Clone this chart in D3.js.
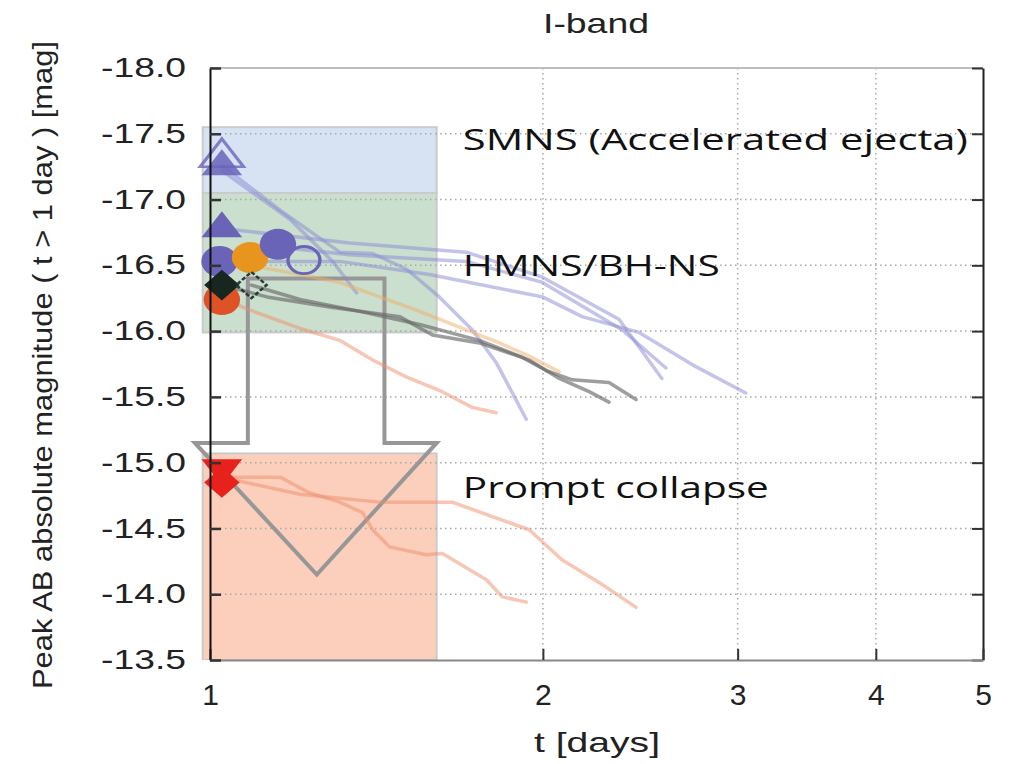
<!DOCTYPE html>
<meta charset="utf-8">
<style>
    body { margin: 0; background: #fff; }
    .tickLabel text { font: 27px "Liberation Sans", Arial, sans-serif; fill: #222; }
    .xTickLabel text { font: 30px "Liberation Sans", Arial, sans-serif; fill: #222; }
    .regionLabel { font: 29px "Open Sans", sans-serif; fill: #111; }
    .axisTitle { font: 28px "Liberation Sans", Arial, sans-serif; fill: #222; }
</style>
<body>
<script src="https://d3js.org/d3.v7.min.js"></script>
<script>
    // ---- data (t in days, peak AB magnitude) ----
    let yTicks = [-18.0, -17.5, -17.0, -16.5, -16.0, -15.5, -15.0, -14.5, -14.0, -13.5];
    let xTicks = [1, 2, 3, 4, 5];
    let xGrid = [2, 3, 4];

    let regionNames = ["SMNS (Accelerated ejecta)", "HMNS/BH-NS", "Prompt collapse"];
    let regionTop = [-17.55, -17.05, -15.07];
    let regionBottom = [-17.05, -15.99, -13.5];
    let regionT = [0.985, 1.603];
    let labelMag = [-17.38, -16.42, -14.73];

    // hollow arrow from the HMNS box down to the prompt collapse box
    let arrowPts = [[1.082, -16.40], [1.438, -16.40], [1.438, -15.15], [1.603, -15.15],
                    [1.249, -14.15], [0.969, -15.15], [1.082, -15.15]];

    // light curves
    let purpleSteep = [[1.025,-17.26],[1.157,-16.92],[1.310,-16.60],[1.403,-16.59],[1.506,-16.47],[1.612,-16.26],[1.726,-16.01],[1.815,-15.76],[1.932,-15.33]];
    let purpleShort = [[1.025,-17.22],[1.181,-16.85],[1.291,-16.53],[1.357,-16.29]];
    let purpleA = [[1.025,-16.78],[1.338,-16.67],[1.705,-16.60],[1.998,-16.41],[2.343,-16.09],[2.562,-15.64]];
    let purpleB = [[1.152,-16.64],[1.338,-16.58],[1.705,-16.53],[1.998,-16.37],[2.358,-16.01],[2.584,-15.72]];
    let purpleC = [[1.020,-16.53],[1.310,-16.53],[1.579,-16.43],[1.998,-16.26],[2.170,-16.11],[2.443,-15.99],[2.750,-15.73],[3.051,-15.53]];
    let greyA = [[1.025,-16.35],[1.126,-16.26],[1.291,-16.18],[1.484,-16.11],[1.589,-15.97],[1.752,-15.91],[1.916,-15.80],[2.014,-15.70],[2.126,-15.63],[2.295,-15.61],[2.428,-15.48]];
    let greyB = [[1.090,-16.35],[1.206,-16.24],[1.366,-16.15],[1.547,-16.05],[1.752,-15.93],[1.944,-15.78],[2.069,-15.64],[2.202,-15.54],[2.295,-15.46]];
    let orangeA = [[1.087,-16.50],[1.206,-16.43],[1.310,-16.37],[1.537,-16.16],[1.681,-16.03],[1.826,-15.91],[1.944,-15.81],[2.069,-15.69]];
    let salmonA = [[1.025,-16.25],[1.087,-16.16],[1.206,-16.02],[1.310,-15.93],[1.403,-15.78],[1.506,-15.65],[1.612,-15.55],[1.726,-15.42],[1.815,-15.38]];
    let promptA = [[1.025,-14.95],[1.049,-14.89],[1.157,-14.89],[1.231,-14.77],[1.310,-14.70],[1.374,-14.62],[1.403,-14.49],[1.453,-14.36],[1.569,-14.30],[1.622,-14.31],[1.778,-14.11],[1.838,-13.98],[1.932,-13.94]];
    let promptB = [[1.025,-14.91],[1.049,-14.87],[1.206,-14.76],[1.423,-14.70],[1.656,-14.70],[1.800,-14.59],[1.944,-14.49],[2.082,-14.26],[2.248,-14.09],[2.428,-13.90]];

    // peak markers
    let markerT =     [1.025, 1.025, 1.025, 1.020, 1.087, 1.152, 1.216, 1.025, 1.025, 1.090, 1.025, 1.025];
    let markerMag =   [-17.25, -17.32, -16.78, -16.53, -16.56, -16.66, -16.54, -16.24, -16.35, -16.35, -14.96, -14.85];
    let markerShape = ["tri", "triOpen", "tri", "circle", "circle", "circle", "circleOpen", "circle", "diamond", "diamondOpen", "triDown", "diamond"];
    let markerGroup = ["purple", "purple", "purple", "purple", "orange", "purple", "purple", "redorange", "black", "black", "red", "red"];

    // ---- layout ----
    let width = 1016;
    let height = 764;
    let margin = {top: 68, right: 33, bottom: 104, left: 210};

    let svg = d3.select("body").append("svg")
        .attr("width", width)
        .attr("height", height);

    let x = d3.scaleLog().domain([1, 5]).range([margin.left, width - margin.right]);
    let y = d3.scaleLinear().domain([-18, -13.5]).range([margin.top, height - margin.bottom]);

    let regionColor = ["#d7e3f3", "#cadfcd", "#fbcfbb"];
    let lineColor = {purple: "#8a8ad6", grey: "#6a6a6a", orange: "#f0b068", salmon: "#ef8e6c"};
    let markerColor = {purple: "#6a64b8", orange: "#e8951f", redorange: "#de5326", black: "#17261f", red: "#e8211d"};

    // clip everything to the frame (boxes stick out a little on the left)
    svg.append("defs").append("clipPath").attr("id", "frameClip")
        .append("rect")
        .attr("x", x(1) - 10).attr("y", y(-18))
        .attr("width", x(5) - x(1) + 10).attr("height", y(-13.5) - y(-18));

    // shaded regions
    svg.append("g").attr("clip-path", "url(#frameClip)")
        .selectAll("rect")
        .data(regionNames)
        .join("rect")
            .attr("x", x(regionT[0]))
            .attr("width", x(regionT[1]) - x(regionT[0]))
            .attr("y", function(d, i){ return y(regionTop[i]); })
            .attr("height", function(d, i){ return y(regionBottom[i]) - y(regionTop[i]); })
            .attr("fill", function(d, i){ return regionColor[i]; })
            .attr("stroke", "#cacaca")
            .attr("stroke-width", 2);

    // dotted grid
    let grid = svg.append("g").attr("stroke", "#a8a8a8").attr("stroke-width", 1.5).attr("stroke-dasharray", "1.5,3.5");
    grid.selectAll(".h")
        .data(yTicks.slice(1, -1))
        .join("line")
            .attr("class", "h")
            .attr("x1", x(1)).attr("x2", x(5))
            .attr("y1", function(d){ return y(d); }).attr("y2", function(d){ return y(d); });
    grid.selectAll(".v")
        .data(xGrid)
        .join("line")
            .attr("class", "v")
            .attr("x1", function(d){ return x(d); }).attr("x2", function(d){ return x(d); })
            .attr("y1", y(-18)).attr("y2", y(-13.5));

    // hollow arrow
    svg.append("path")
        .attr("d", d3.line().x(function(d){ return x(d[0]); }).y(function(d){ return y(d[1]); })(arrowPts) + "Z")
        .attr("fill", "none")
        .attr("stroke", "#979797")
        .attr("stroke-width", 4)
        .attr("stroke-linejoin", "miter");

    // light curves
    let curves = [
        {pts: purpleSteep, c: "purple"}, {pts: purpleShort, c: "purple"},
        {pts: purpleA, c: "purple"}, {pts: purpleB, c: "purple"}, {pts: purpleC, c: "purple"},
        {pts: orangeA, c: "orange"}, {pts: salmonA, c: "salmon"},
        {pts: greyA, c: "grey"}, {pts: greyB, c: "grey"},
        {pts: promptA, c: "salmon"}, {pts: promptB, c: "salmon"}
    ];
    let lineGen = d3.line()
        .x(function(d){ return x(d[0]); })
        .y(function(d){ return y(d[1]); })
        .curve(d3.curveLinear);
    svg.append("g")
        .selectAll("path")
        .data(curves)
        .join("path")
            .attr("d", function(d){ return lineGen(d.pts); })
            .attr("fill", "none")
            .attr("stroke", function(d){ return lineColor[d.c]; })
            .attr("stroke-opacity", function(d){ return d.c === "grey" ? 0.65 : 0.5; })
            .attr("stroke-width", 3.5)
            .attr("stroke-linejoin", "round")
            .attr("stroke-linecap", "round");

    // markers
    function symbolPath(shape){
        if(shape === "tri" || shape === "triOpen" || shape === "triDown"){
            return d3.symbol().type(d3.symbolTriangle).size(shape === "triOpen" ? 620 : 540)();
        }
        if(shape === "circle"){
            return d3.symbol().type(d3.symbolCircle).size(830)();
        }
        if(shape === "circleOpen"){
            return d3.symbol().type(d3.symbolCircle).size(640)();
        }
        if(shape === "diamond" || shape === "diamondOpen"){
            return d3.symbol().type(d3.symbolSquare).size(shape === "diamondOpen" ? 380 : 520)();
        }
    }
    function symbolTransform(shape, i){
        let t = "translate(" + x(markerT[i]) + "," + y(markerMag[i]) + ")";
        if(shape.indexOf("tri") === 0){
            t += " scale(1.15,0.85)";
            if(shape === "triDown") t += " rotate(180)";
        } else if(shape.indexOf("circle") === 0){
            t += " scale(1.12,0.95)";
        } else {
            t += " scale(1.1,0.95) rotate(45)";
        }
        return t;
    }
    svg.append("g")
        .selectAll("path")
        .data(markerShape)
        .join("path")
            .attr("d", function(d){ return symbolPath(d); })
            .attr("transform", function(d, i){ return symbolTransform(d, i); })
            .attr("fill", function(d, i){ return d.indexOf("Open") > 0 ? "none" : markerColor[markerGroup[i]]; })
            .attr("fill-opacity", function(d, i){ return markerGroup[i] === "purple" && d === "tri" && i < 2 ? 0.85 : 1; })
            .attr("stroke", function(d, i){ return d.indexOf("Open") > 0 ? (d === "diamondOpen" ? "#2b3a33" : markerColor[markerGroup[i]]) : "none"; })
            .attr("stroke-width", function(d){ return d === "diamondOpen" ? 2.5 : 3; })
            .attr("stroke-dasharray", function(d){ return d === "diamondOpen" ? "4,2" : null; })
            .attr("stroke-opacity", function(d){ return d === "triOpen" ? 0.8 : 1; });

    // region labels
    svg.append("g")
        .selectAll("text")
        .data(regionNames)
        .join("text")
            .attr("class", "regionLabel")
            .attr("x", x(1.693))
            .attr("y", function(d, i){ return y(labelMag[i]); })
            .text(function(d){ return d; })
            .each(function(d, i){
                let target = [505, 257, 306][i];
                d3.select(this).attr("textLength", target).attr("lengthAdjust", "spacingAndGlyphs");
            });

    // frame: top and right
    svg.append("line")
        .attr("x1", x(1)).attr("x2", x(5)).attr("y1", y(-18)).attr("y2", y(-18))
        .attr("stroke", "#bdbdbd").attr("stroke-width", 2);

    let yAxisRight = svg.append("g")
        .attr("transform", "translate(" + x(5) + ",0)")
        .call(d3.axisRight(y).tickValues(yTicks).tickSizeInner(-11).tickSizeOuter(0).tickFormat(""));
    yAxisRight.select(".domain").attr("stroke", "#222").attr("stroke-width", 2);
    yAxisRight.selectAll(".tick line").attr("stroke", "#333").attr("stroke-width", 2);

    // bottom axis
    let xAxis = svg.append("g")
        .attr("class", "xTickLabel")
        .attr("transform", "translate(0," + y(-13.5) + ")")
        .call(d3.axisBottom(x).tickValues(xTicks).tickSizeInner(-11).tickSizeOuter(0).tickPadding(24).tickFormat(d3.format("d")));
    xAxis.select(".domain").attr("stroke", "#888").attr("stroke-width", 2);
    xAxis.selectAll(".tick line").attr("stroke", "#333").attr("stroke-width", 2);
    xAxis.selectAll("text").attr("font-size", null).attr("font-family", null);

    // left axis
    let yAxis = svg.append("g")
        .attr("class", "tickLabel")
        .attr("transform", "translate(" + x(1) + ",0)")
        .call(d3.axisLeft(y).tickValues(yTicks).tickSizeInner(-11).tickSizeOuter(0).tickPadding(24)
            .tickFormat(function(d){ return d.toFixed(1); }));
    yAxis.select(".domain").attr("stroke", "#111").attr("stroke-width", 2);
    yAxis.selectAll(".tick line").attr("stroke", "#333").attr("stroke-width", 2.5);
    yAxis.selectAll("text").attr("font-size", null).attr("font-family", null)
        .each(function(){
            let w = this.getComputedTextLength();
            d3.select(this).attr("textLength", w * 1.38).attr("lengthAdjust", "spacingAndGlyphs");
        });

    // titles
    svg.append("text")
        .attr("class", "axisTitle")
        .attr("x", 596).attr("y", 33)
        .attr("text-anchor", "middle")
        .attr("font-size", 30)
        .attr("textLength", 106).attr("lengthAdjust", "spacingAndGlyphs")
        .text("I-band");

    svg.append("text")
        .attr("class", "axisTitle")
        .attr("x", 597).attr("y", 752)
        .attr("text-anchor", "middle")
        .attr("textLength", 126).attr("lengthAdjust", "spacingAndGlyphs")
        .text("t [days]");

    svg.append("text")
        .attr("class", "axisTitle")
        .attr("transform", "translate(52," + 365 + ") rotate(-90)")
        .attr("text-anchor", "middle")
        .attr("textLength", 648).attr("lengthAdjust", "spacingAndGlyphs")
        .text("Peak AB absolute magnitude ( t > 1 day ) [mag]");
</script>
</body>
